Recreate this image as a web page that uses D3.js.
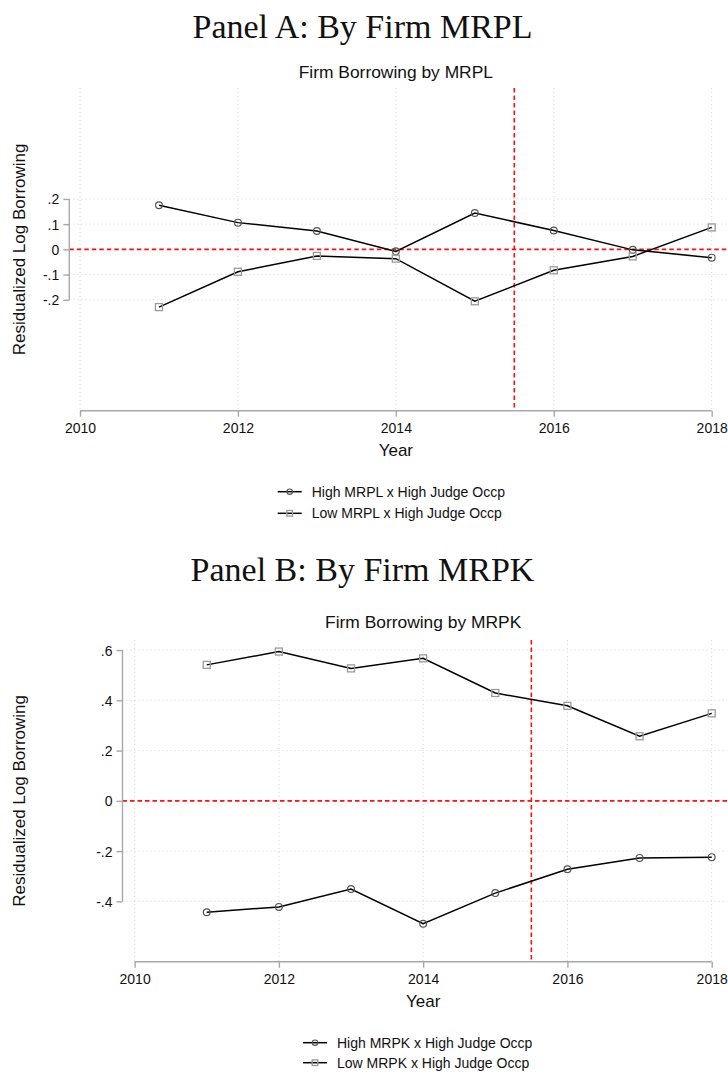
<!DOCTYPE html>
<html>
<head>
<meta charset="utf-8">
<script src="https://cdn.jsdelivr.net/npm/d3@7"></script>
<style>
  html, body { margin: 0; padding: 0; background: #fff; }
  svg { display: block; }
  .sans { font-family: "Liberation Sans", Arial, Helvetica, sans-serif; }
</style>
</head>
<body>
<svg id="chart" width="728" height="1072"></svg>
<script>
// ---- data -------------------------------------------------------------
const years = [2011, 2012, 2013, 2014, 2015, 2016, 2017, 2018];

// Panel A: borrowing by firm MRPL
const highMRPL = [0.175, 0.106, 0.073, -0.008, 0.144, 0.075, -0.002, -0.033];
const lowMRPL  = [-0.229, -0.089, -0.026, -0.037, -0.206, -0.083, -0.028, 0.087];

// Panel B: borrowing by firm MRPK
const highMRPK = [-0.443, -0.422, -0.351, -0.489, -0.367, -0.272, -0.227, -0.224];
const lowMRPK  = [0.541, 0.594, 0.527, 0.567, 0.429, 0.378, 0.257, 0.348];

const xTicks  = [2010, 2012, 2014, 2016, 2018];
const yTicksA = [-0.2, -0.1, 0, 0.1, 0.2];
const yTicksB = [-0.4, -0.2, 0, 0.2, 0.4, 0.6];
const yDomain = [-0.64, 0.64];
const xDomain = [2010, 2018];
const policyYear = 2015.5;

const legendA = ["High MRPL x High Judge Occp", "Low MRPL x High Judge Occp"];
const legendB = ["High MRPK x High Judge Occp", "Low MRPK x High Judge Occp"];

// ---- layout -----------------------------------------------------------
const panels = [
  {
    heading: "Panel A: By Firm MRPL", headingY: 37.5,
    title: "Firm Borrowing by MRPL", titleY: 78,
    x0: 80, x1: 711.7, right: 727, top: 88, bottom: 410.7, axisX: 69.3,
    yTicks: yTicksA, high: highMRPL, low: lowMRPL, legend: legendA,
    yearY: 456, legendX: 277.7, legendY: [491.7, 513.3]
  },
  {
    heading: "Panel B: By Firm MRPK", headingY: 581,
    title: "Firm Borrowing by MRPK", titleY: 628,
    x0: 134.6, x1: 711.7, right: 727, top: 640, bottom: 961.7, axisX: 122.5,
    yTicks: yTicksB, high: highMRPK, low: lowMRPK, legend: legendB,
    yearY: 1007, legendX: 303, legendY: [1042.7, 1062.7]
  }
];

// Stata-like tick labels: ".2", "-.4", "0" (plain hyphen minus)
const locale = d3.formatLocale({ decimal: ".", thousands: ",", grouping: [3], currency: ["", ""], minus: "-" });
const fmt1 = locale.format(".1f");
const fmtY = v => {
  if (Math.abs(v) < 1e-9) return "0";
  return fmt1(v).replace(/^(-?)0\./, "$1.");
};

const svg = d3.select("#chart");
const highStyle = { stroke: "#555", width: 1.2 };
const lowStyle  = { stroke: "#9a9a9a", width: 1.3 };

function circleMarker(g, x, y, r) {
  g.append("circle").attr("cx", x).attr("cy", y).attr("r", r)
    .attr("fill", "none").attr("stroke", highStyle.stroke).attr("stroke-width", highStyle.width);
}
function squareMarker(g, x, y, s) {
  g.append("rect").attr("x", x - s / 2).attr("y", y - s / 2).attr("width", s).attr("height", s)
    .attr("fill", "none").attr("stroke", lowStyle.stroke).attr("stroke-width", lowStyle.width);
}

panels.forEach(p => {
  const x = d3.scaleLinear().domain(xDomain).range([p.x0, p.x1]);
  const y = d3.scaleLinear().domain(yDomain).range([p.bottom, p.top]);
  const g = svg.append("g");

  // heading (serif) and graph title
  g.append("text").attr("x", 362.5).attr("y", p.headingY)
    .attr("text-anchor", "middle")
    .attr("font-family", "'Liberation Serif', 'Times New Roman', serif")
    .attr("font-size", 34).attr("fill", "#111").text(p.heading);

  const cx = (p.x0 + p.x1) / 2;
  g.append("text").attr("class", "sans").attr("x", cx).attr("y", p.titleY)
    .attr("text-anchor", "middle").attr("font-size", 17.4).attr("fill", "#111").text(p.title);

  // grid lines
  const grid = g.append("g").attr("stroke", "#cfcfcf").attr("stroke-width", 0.9)
    .attr("stroke-dasharray", "1,3");
  xTicks.forEach(t => {
    grid.append("line").attr("x1", x(t)).attr("x2", x(t))
      .attr("y1", p.top).attr("y2", p.bottom);
  });
  p.yTicks.forEach(t => {
    if (t === 0) return;
    grid.append("line").attr("x1", p.axisX).attr("x2", p.right)
      .attr("y1", y(t)).attr("y2", y(t));
  });

  // reference lines
  const ref = g.append("g").attr("stroke", "#ff1010").attr("stroke-width", 1.6)
    .attr("stroke-dasharray", "4.5,3");
  ref.append("line").attr("x1", p.axisX).attr("x2", p.right).attr("y1", y(0)).attr("y2", y(0));
  ref.append("line").attr("x1", x(policyYear)).attr("x2", x(policyYear))
    .attr("y1", p.top).attr("y2", p.bottom);

  // y axis
  const yAxis = d3.axisLeft(y).tickValues(p.yTicks).tickFormat(fmtY)
    .tickSize(6).tickPadding(4);
  const ya = g.append("g").attr("class", "sans").attr("transform", `translate(${p.axisX},0)`).call(yAxis);
  ya.select(".domain").remove();
  ya.append("line").attr("x1", 0).attr("x2", 0)
    .attr("y1", y(d3.max(p.yTicks))).attr("y2", y(d3.min(p.yTicks)));
  ya.selectAll("line").attr("stroke", "#a8a8a8").attr("stroke-width", 1.4);
  ya.selectAll("text").attr("font-size", 14).attr("fill", "#111").attr("dy", "0.36em");

  // x axis
  const xAxis = d3.axisBottom(x).tickValues(xTicks).tickFormat(d3.format("d"))
    .tickSize(6).tickPadding(6);
  const xa = g.append("g").attr("class", "sans").attr("transform", `translate(0,${p.bottom})`).call(xAxis);
  xa.select(".domain").remove();
  xa.append("line").attr("x1", x(xDomain[0])).attr("x2", x(xDomain[1])).attr("y1", 0).attr("y2", 0);
  xa.selectAll("line").attr("stroke", "#a8a8a8").attr("stroke-width", 1.4);
  xa.selectAll("text").attr("font-size", 14).attr("fill", "#111");

  // axis titles
  g.append("text").attr("class", "sans").attr("x", cx).attr("y", p.yearY)
    .attr("text-anchor", "middle").attr("font-size", 17).attr("fill", "#111").text("Year");
  g.append("text").attr("class", "sans")
    .attr("transform", `translate(25,${(p.top + p.bottom) / 2}) rotate(-90)`)
    .attr("text-anchor", "middle").attr("font-size", 17).attr("fill", "#111")
    .text("Residualized Log Borrowing");

  // series lines
  const line = d3.line().x((d, i) => x(years[i])).y(d => y(d));
  [p.high, p.low].forEach(vals => {
    g.append("path").datum(vals).attr("d", line)
      .attr("fill", "none").attr("stroke", "#000").attr("stroke-width", 1.5);
  });

  // markers
  const mk = g.append("g");
  p.high.forEach((v, i) => circleMarker(mk, x(years[i]), y(v), 3.4));
  p.low.forEach((v, i) => squareMarker(mk, x(years[i]), y(v), 7));

  // legend
  const lg = g.append("g");
  p.legend.forEach((label, i) => {
    const ly = p.legendY[i];
    lg.append("line").attr("x1", p.legendX).attr("x2", p.legendX + 24)
      .attr("y1", ly).attr("y2", ly).attr("stroke", "#000").attr("stroke-width", 1.5);
    if (i === 0) circleMarker(lg, p.legendX + 12, ly, 2.7);
    else squareMarker(lg, p.legendX + 12, ly, 5.6);
    lg.append("text").attr("class", "sans").attr("x", p.legendX + 34).attr("y", ly + 5)
      .attr("font-size", 14).attr("fill", "#111").text(label);
  });
});
</script>
</body>
</html>
